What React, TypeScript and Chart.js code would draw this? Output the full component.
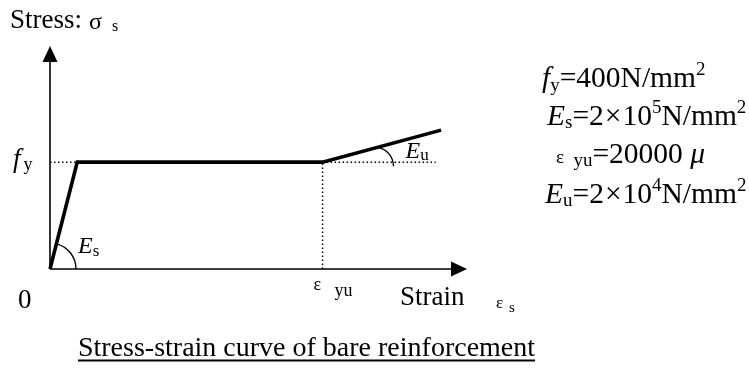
import React, { useEffect, useRef } from "react";
import { Chart, registerables } from "chart.js";

Chart.register(...registerables);

// Schematic bilinear stress-strain model of bare reinforcement
const STRAIN_PERMILLE = [0, 2, 20, 28.7]; // strain (‰)
const STRESS = [0, 400, 400, 520]; // stress (N/mm², schematic)
const FY = 400;
const EPS_Y = 2;
const EPS_YU = 20;
const DOT_END_STRAIN = 28.3;
const AXIS_MAX_STRAIN = 30.6;
const AXIS_MAX_STRESS = 835;

const TITLE = "Stress-strain curve of bare reinforcement";
const Y_AXIS_LABEL = "Stress:";
const X_AXIS_LABEL = "Strain";
const ORIGIN_LABEL = "0";

const SERIF = '"Liberation Serif", "Times New Roman", Times, serif';

type Run = { t: string; s: number; i?: boolean; dy?: number; dx?: number };

function fontOf(size: number, italic?: boolean) {
  return `${italic ? "italic " : ""}${size}px ${SERIF}`;
}

function drawRuns(ctx: CanvasRenderingContext2D, x: number, y: number, runs: Run[]) {
  let cx = x;
  for (const r of runs) {
    ctx.font = fontOf(r.s, r.i);
    cx += r.dx || 0;
    ctx.fillText(r.t, cx, y + (r.dy || 0));
    cx += ctx.measureText(r.t).width;
  }
  return cx;
}

const diagramPlugin = {
  id: "diagram",
  beforeDatasetsDraw(chart: any) {
    const ctx: CanvasRenderingContext2D = chart.ctx;
    const xs = chart.scales.x;
    const ys = chart.scales.y;
    const x0 = xs.getPixelForValue(0);
    const y0 = ys.getPixelForValue(0);
    const top = ys.getPixelForValue(AXIS_MAX_STRESS);
    const right = xs.getPixelForValue(AXIS_MAX_STRAIN);
    ctx.save();
    ctx.strokeStyle = "#000";
    ctx.fillStyle = "#000";
    ctx.lineWidth = 1.6;
    ctx.beginPath();
    ctx.moveTo(x0, y0);
    ctx.lineTo(x0, top + 12);
    ctx.moveTo(x0, y0);
    ctx.lineTo(right - 12, y0);
    ctx.stroke();
    // arrow heads
    ctx.beginPath();
    ctx.moveTo(x0, top);
    ctx.lineTo(x0 - 7.5, top + 16);
    ctx.lineTo(x0 + 7.5, top + 16);
    ctx.closePath();
    ctx.fill();
    ctx.beginPath();
    ctx.moveTo(right, y0);
    ctx.lineTo(right - 16, y0 - 7.5);
    ctx.lineTo(right - 16, y0 + 7.5);
    ctx.closePath();
    ctx.fill();

    // Es arc
    const yx = xs.getPixelForValue(EPS_Y);
    const yy = ys.getPixelForValue(FY);
    const th = Math.atan2(y0 - yy, yx - x0);
    ctx.lineWidth = 1.4;
    ctx.beginPath();
    ctx.arc(x0, y0, 26, -th, 0, false);
    ctx.stroke();

    // Eu arc
    const kx = xs.getPixelForValue(EPS_YU);
    const ky = ys.getPixelForValue(FY);
    ctx.beginPath();
    ctx.moveTo(kx + 55, ky - 15);
    ctx.quadraticCurveTo(kx + 70, ky - 11, kx + 71, ky + 4);
    ctx.stroke();
    ctx.restore();
  },
  afterDraw(chart: any) {
    const ctx: CanvasRenderingContext2D = chart.ctx;
    const xs = chart.scales.x;
    const ys = chart.scales.y;
    const x0 = xs.getPixelForValue(0);
    const y0 = ys.getPixelForValue(0);
    const fyPix = ys.getPixelForValue(FY);
    const kx = xs.getPixelForValue(EPS_YU);
    ctx.save();
    ctx.fillStyle = "#000";
    ctx.textBaseline = "alphabetic";
    ctx.textAlign = "left";

    // y-axis title
    drawRuns(ctx, 10, 28, [{ t: Y_AXIS_LABEL, s: 27 }]);
    drawRuns(ctx, 89, 29, [{ t: "σ", s: 24 }]);
    drawRuns(ctx, 112, 31, [{ t: "s", s: 16 }]);

    // fy label
    drawRuns(ctx, x0 - 37, fyPix + 5, [
      { t: "f", s: 27, i: true },
      { t: "y", s: 18, dy: 3, dx: 3 },
    ]);
    // Es label
    drawRuns(ctx, x0 + 28, y0 - 16, [
      { t: "E", s: 24, i: true },
      { t: "s", s: 17, dy: 3 },
    ]);
    // Eu label
    drawRuns(ctx, kx + 83, fyPix - 4, [
      { t: "E", s: 24, i: true },
      { t: "u", s: 17, dy: 2 },
    ]);
    // origin
    drawRuns(ctx, x0 - 32, y0 + 39, [{ t: ORIGIN_LABEL, s: 27 }]);
    // eps_yu
    drawRuns(ctx, kx - 9, y0 + 21, [{ t: "ε", s: 18 }]);
    drawRuns(ctx, kx + 12, y0 + 27, [{ t: "yu", s: 18 }]);
    // x-axis title
    drawRuns(ctx, 400, y0 + 36, [{ t: X_AXIS_LABEL, s: 27 }]);
    drawRuns(ctx, 496, y0 + 39, [{ t: "ε", s: 17 }]);
    drawRuns(ctx, 509, y0 + 43, [{ t: "s", s: 15 }]);

    // parameters
    const F = 29.5;
    const S = 19;
    drawRuns(ctx, 542, 87, [
      { t: "f", s: F, i: true },
      { t: "y", s: S, dy: 4 },
      { t: "=400N/mm", s: F },
      { t: "2", s: S, dy: -12 },
    ]);
    drawRuns(ctx, 547, 125, [
      { t: "E", s: F, i: true },
      { t: "s", s: S, dy: 3 },
      { t: "=2", s: F },
      { t: "×", s: F, dx: 1 },
      { t: "10", s: F, dx: 1 },
      { t: "5", s: S, dy: -12 },
      { t: "N/mm", s: F },
      { t: "2", s: S, dy: -12 },
    ]);
    drawRuns(ctx, 556, 163, [
      { t: "ε", s: 19 },
      { t: "  yu", s: S, dy: 3 },
      { t: "=20000 ", s: F },
      { t: "μ", s: F, i: true },
    ]);
    drawRuns(ctx, 545, 203, [
      { t: "E", s: F, i: true },
      { t: "u", s: S, dy: 3 },
      { t: "=2", s: F },
      { t: "×", s: F, dx: 1 },
      { t: "10", s: F, dx: 1 },
      { t: "4", s: S, dy: -12 },
      { t: "N/mm", s: F },
      { t: "2", s: S, dy: -12 },
    ]);

    // title, underlined
    ctx.font = fontOf(28);
    const w = ctx.measureText(TITLE).width;
    const cx = 306.5;
    ctx.fillText(TITLE, cx - w / 2, 356);
    ctx.fillRect(cx - w / 2, 359.5, w, 2);
    ctx.restore();
  },
};

function pts(xv: number[], yv: number[]) {
  return xv.map((x, i) => ({ x, y: yv[i] }));
}

export default function App() {
  const ref = useRef<HTMLCanvasElement | null>(null);
  useEffect(() => {
    if (!ref.current) return;
    const dotted = {
      borderColor: "#000",
      borderWidth: 1.5,
      borderDash: [1.5, 2.5],
      pointRadius: 0,
      showLine: true,
      fill: false,
      clip: false as any,
    };
    const chart = new Chart(ref.current, {
      type: "scatter",
      data: {
        datasets: [
          {
            ...dotted,
            data: pts([0, EPS_Y], [FY, FY]),
          },
          {
            ...dotted,
            data: pts([EPS_YU, DOT_END_STRAIN], [FY, FY]),
          },
          {
            ...dotted,
            data: pts([EPS_YU, EPS_YU], [0, FY]),
          },
          {
            data: pts(STRAIN_PERMILLE, STRESS),
            borderColor: "#000",
            borderWidth: 3.6,
            pointRadius: 0,
            showLine: true,
            fill: false,
            clip: false as any,
            borderJoinStyle: "miter",
          } as any,
        ],
      },
      options: {
        animation: false,
        responsive: true,
        maintainAspectRatio: false,
        layout: { padding: { left: 50, right: 282, top: 46, bottom: 100 } },
        scales: {
          x: { type: "linear", min: 0, max: AXIS_MAX_STRAIN, display: false },
          y: { type: "linear", min: 0, max: AXIS_MAX_STRESS, display: false },
        },
        plugins: {
          legend: { display: false },
          tooltip: { enabled: false },
          title: { display: false },
        },
        events: [],
      },
      plugins: [diagramPlugin],
    });
    return () => chart.destroy();
  }, []);
  return (
    <div style={{ position: "fixed", left: 0, top: 0, width: 749, height: 369, background: "#fff" }}>
      <canvas ref={ref} />
    </div>
  );
}
